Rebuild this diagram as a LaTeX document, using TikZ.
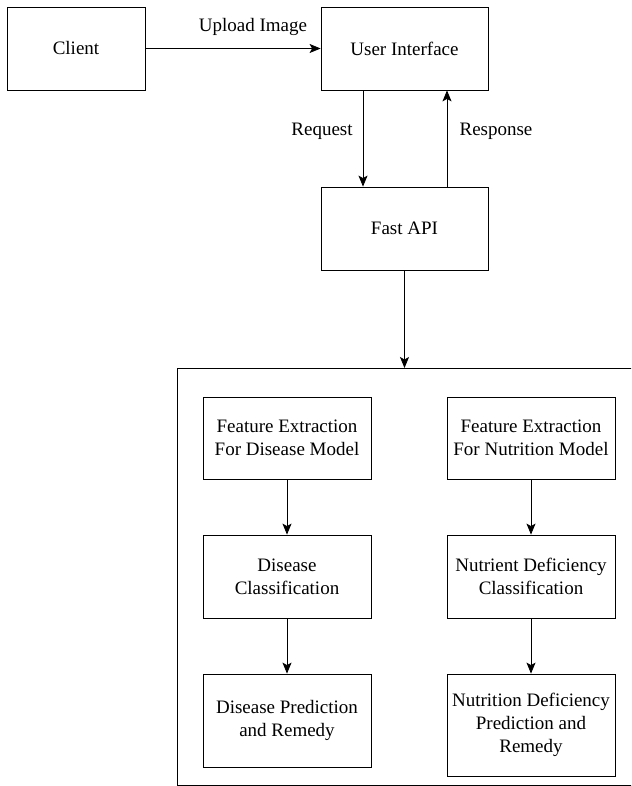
\documentclass[tikz,border=0pt]{standalone}
\usepackage{fontspec}
\setmainfont{Liberation Serif}
\usetikzlibrary{arrows.meta}
\tikzset{
  box/.style={draw, line width=0.8pt, align=center, minimum width=168pt, minimum height=83pt, inner sep=2pt},
  flow/.style={-{Stealth[length=11pt,width=9pt,inset=2.5pt]}, line width=0.8pt},
  lbl/.style={inner sep=0pt}
}
\begin{document}
\begin{tikzpicture}[x=1pt, y=-1pt, font=\fontsize{19}{23}\selectfont]
\path[use as bounding box, clip] (0,0) rectangle (631,786);
\node[box, minimum width=138pt] (client) at (76,48.5) {Client};
\node[box, minimum width=167pt] (ui) at (404.5,48.5) {User Interface};
\node[box, minimum width=167pt] (api) at (404.5,228.5) {Fast API};
\node[draw, line width=0.8pt, anchor=north west, minimum width=530pt, minimum height=417pt] (models) at (177,368) {};
\node[box, minimum height=82pt] (featD) at (287,438) {Feature Extraction\\For Disease Model};
\node[box, minimum height=82pt] (featN) at (531,438) {Feature Extraction\\For Nutrition Model};
\node[box] (clsD) at (287,576.5) {Disease\\Classification};
\node[box] (clsN) at (531,576.5) {Nutrient Deficiency\\Classification};
\node[box, minimum height=93pt] (predD) at (287,720.5) {Disease Prediction\\and Remedy};
\node[box, minimum height=102pt] (predN) at (531,725) {Nutrition Deficiency\\Prediction and\\Remedy};
\draw[flow] (client) -- (ui);
\node[lbl] (upload) at (253,27) {Upload Image};
\draw[flow] ([xshift=-41.5pt]ui.south) -- ([xshift=-41.5pt]api.north);
\node[lbl] (req) at (322,131) {Request};
\draw[flow] ([xshift=42.5pt]api.north) -- ([xshift=42.5pt]ui.south);
\node[lbl] (resp) at (496,131) {Response};
\draw[flow] (api.south) -- (api.south |- models.north);
\draw[flow] (featD) -- (clsD);
\draw[flow] (clsD) -- (predD);
\draw[flow] (featN) -- (clsN);
\draw[flow] (clsN) -- (predN);
\end{tikzpicture}
\end{document}
